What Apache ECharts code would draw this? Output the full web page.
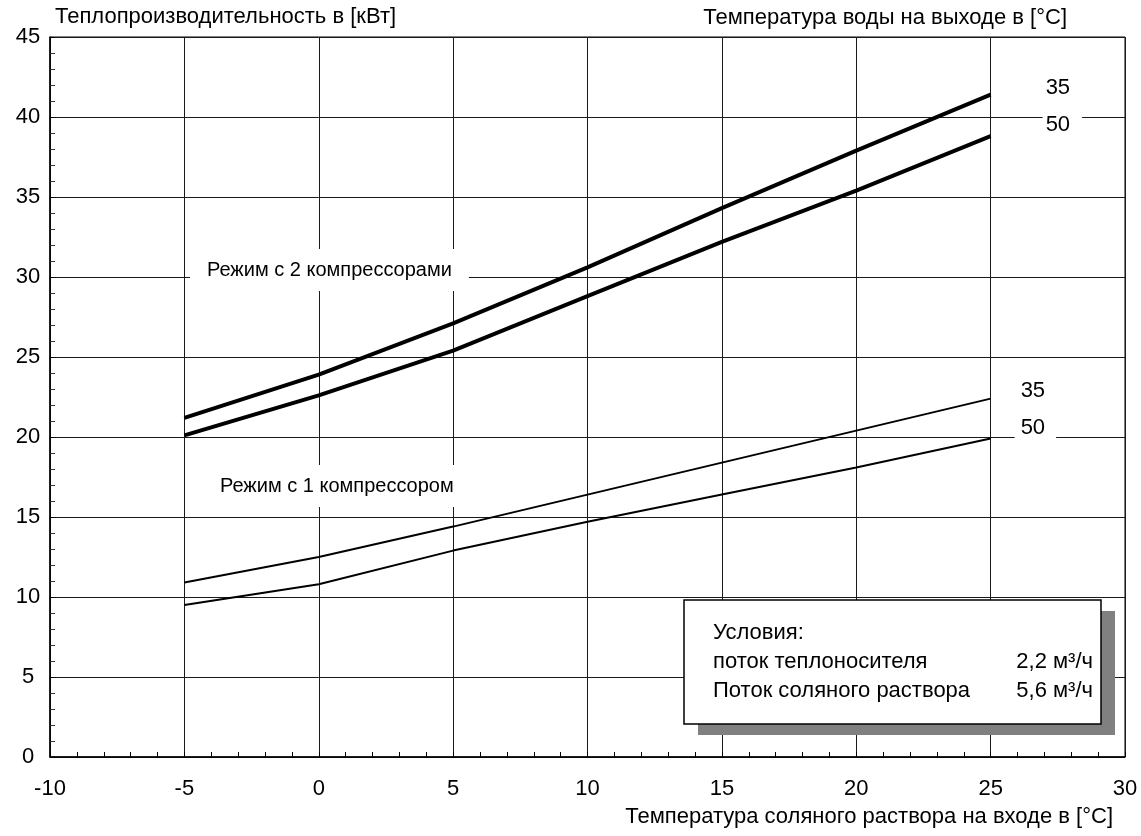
<!DOCTYPE html>
<html>
<head>
<meta charset="utf-8">
<title>Теплопроизводительность</title>
<script src="https://cdn.jsdelivr.net/npm/echarts@6/dist/echarts.min.js"></script>
<style>
    html, body { margin: 0; padding: 0; background: #fff; }
    #chart { width: 1141px; height: 836px; }
</style>
</head>
<body>
<div id="chart"></div>
<script>
// brine inlet temperature, °C
const brineTemp = [-5, 0, 5, 10, 15, 20, 25];

// heating capacity, kW (2 compressors)
const twoComp35 = [21.2, 23.9, 27.1, 30.6, 34.3, 37.9, 41.4];
const twoComp50 = [20.1, 22.6, 25.4, 28.8, 32.2, 35.4, 38.8];

// heating capacity, kW (1 compressor)
const oneComp35 = [10.9, 12.5, 14.4, 16.4, 18.4, 20.4, 22.4];
const oneComp50 = [9.5, 10.8, 12.9, 14.7, 16.4, 18.1, 19.9];

const FONT = 'Liberation Sans, Arial, sans-serif';

function pairs(ys) {
    return brineTemp.map(function (x, i) { return [x, ys[i]]; });
}

function curve(name, ys, width, offset, padding) {
    return {
        name: name,
        type: 'line',
        data: pairs(ys),
        showSymbol: false,
        symbol: 'none',
        silent: true,
        lineStyle: { color: '#000', width: width },
        endLabel: {
            show: true,
            formatter: '{a}',
            offset: offset,
            color: '#000',
            fontFamily: FONT,
            fontSize: 22,
            backgroundColor: '#fff',
            padding: padding
        },
        z: 3
    };
}

function boxText(text, x, y, align) {
    return {
        type: 'text', z: 52, x: x, y: y,
        style: {
            text: text, font: '22px ' + FONT, fill: '#000',
            align: align || 'left', verticalAlign: 'middle'
        }
    };
}

const chart = echarts.init(document.getElementById('chart'));

chart.setOption({
    animation: false,
    backgroundColor: '#fff',
    textStyle: { fontFamily: FONT, color: '#000' },
    title: [
        {
            text: 'Температура воды на выходе в [°C]',
            right: 69, top: 2,
            textStyle: { fontFamily: FONT, fontSize: 22, fontWeight: 'normal', color: '#000' }
        },
        {
            text: 'Температура соляного раствора на входе в [°C]',
            right: 23, bottom: 3,
            textStyle: { fontFamily: FONT, fontSize: 22, fontWeight: 'normal', color: '#000' }
        }
    ],
    grid: {
        left: 50, right: 16, top: 37, bottom: 79,
        show: true,
        borderColor: '#000',
        borderWidth: 1,
        backgroundColor: 'transparent'
    },
    xAxis: {
        type: 'value',
        min: -10, max: 30, interval: 5,
        axisLine: { show: true, onZero: false, lineStyle: { color: '#000', width: 1.5 } },
        axisTick: { show: true, inside: true, length: 5, lineStyle: { color: '#000' } },
        minorTick: { show: true, splitNumber: 5, length: 5, lineStyle: { color: '#000' } },
        splitLine: { show: true, lineStyle: { color: '#1a1a1a', width: 1 } },
        axisLabel: { color: '#000', fontSize: 22, fontFamily: FONT, margin: 21 }
    },
    yAxis: {
        type: 'value',
        min: 0, max: 45, interval: 5,
        name: 'Теплопроизводительность в [кВт]',
        nameLocation: 'end',
        nameGap: 9,
        nameTextStyle: { align: 'left', fontSize: 22, fontFamily: FONT, color: '#000', padding: [0, 0, 0, 5] },
        axisLine: { show: true, onZero: false, lineStyle: { color: '#000', width: 1.5 } },
        axisTick: { show: true, inside: true, length: 5, lineStyle: { color: '#000' } },
        minorTick: { show: true, splitNumber: 5, length: 5, lineStyle: { color: '#333' } },
        splitLine: { show: true, lineStyle: { color: '#1a1a1a', width: 1 } },
        axisLabel: { color: '#000', fontSize: 22, fontFamily: FONT, margin: 22, align: 'center' }
    },
    series: [
        curve('35', twoComp35, 4, [44, -7], [3, 12, 3, 3]),
        curve('50', twoComp50, 4, [44, -11], [3, 12, 3, 3]),
        curve('35', oneComp35, 2, [16, -8], [3, 11, 3, 6]),
        curve('50', oneComp50, 2, [16, -11], [3, 11, 3, 6])
    ],
    graphic: [
        {
            type: 'text', left: 190, top: 249, z: 50,
            style: {
                text: 'Режим с 2 компрессорами',
                font: '20px ' + FONT, fill: '#000',
                backgroundColor: '#fff', padding: [11, 17, 11, 17]
            }
        },
        {
            type: 'text', left: 200, top: 465, z: 50,
            style: {
                text: 'Режим с 1 компрессором',
                font: '20px ' + FONT, fill: '#000',
                backgroundColor: '#fff', padding: [11, 15, 11, 20]
            }
        },
        // conditions box with drop shadow
        {
            type: 'rect', z: 50,
            shape: { x: 698, y: 611, width: 417, height: 124 },
            style: { fill: '#808080' }
        },
        {
            type: 'rect', z: 51,
            shape: { x: 684, y: 600, width: 417, height: 124 },
            style: { fill: '#fff', stroke: '#000', lineWidth: 1.5 }
        },
        boxText('Условия:', 713, 633),
        boxText('поток теплоносителя', 713, 662),
        boxText('Поток соляного раствора', 713, 691),
        boxText('2,2 м³/ч', 1093, 662, 'right'),
        boxText('5,6 м³/ч', 1093, 691, 'right')
    ]
});
</script>
</body>
</html>
